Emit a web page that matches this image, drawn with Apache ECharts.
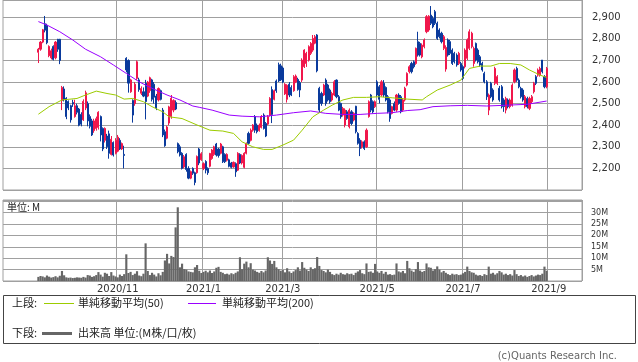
<!DOCTYPE html>
<html><head><meta charset="utf-8">
<script src="https://cdn.jsdelivr.net/npm/echarts@6/dist/echarts.min.js"></script>
<style>html,body{margin:0;padding:0;background:#fff;}#c{width:638px;height:362px;}</style>
</head><body><div id="c"></div>
<script>
// [open, close, low, high]
const candles = [
[2738,2752,2688,2758],[2752,2785,2745,2790],[2785,2842,2780,2846],[2870,2840,2830,2906],[2862,2782,2775,2870],
[2722,2765,2715,2770],[2712,2745,2705,2755],[2765,2705,2700,2770],[2712,2785,2705,2790],[2798,2752,2740,2800],
[2798,2700,2683,2800],
[2515,2575,2470,2582],[2568,2520,2510,2580],[2525,2440,2428,2530],[2510,2480,2470,2515],[2490,2425,2412,2495],
[2505,2498,2485,2518],[2440,2490,2435,2518],[2490,2460,2450,2500],[2475,2400,2395,2480],[2450,2405,2395,2460],
[2425,2510,2420,2520],[2480,2550,2470,2560],[2500,2420,2395,2510],[2440,2395,2385,2450],[2420,2355,2350,2430],
[2375,2420,2365,2430],[2385,2430,2375,2440],[2390,2460,2380,2465],[2440,2355,2325,2445],[2385,2290,2280,2390],
[2330,2385,2320,2390],[2350,2300,2290,2360],[2360,2270,2245,2375],[2265,2335,2260,2350],[2320,2262,2255,2325],
[2270,2330,2265,2340],[2280,2345,2275,2355],[2330,2290,2285,2340],[2290,2315,2285,2320],[2265,2260,2200,2305],
[2710,2656,2645,2715],[2700,2595,2551,2705],[2555,2610,2550,2615],[2515,2447,2412,2520],[2500,2590,2490,2600],
[2617,2694,2610,2700],[2610,2565,2555,2620],[2548,2570,2540,2580],[2555,2535,2530,2575],[2595,2510,2427,2610],
[2535,2600,2530,2605],[2560,2620,2550,2625],[2610,2520,2510,2615],[2590,2530,2500,2600],[2535,2480,2470,2545],
[2517,2570,2510,2575],[2560,2520,2515,2565],[2470,2355,2345,2480],[2370,2305,2300,2380],[2340,2392,2335,2398],
[2410,2485,2400,2490],[2440,2525,2430,2540],[2470,2515,2460,2520],[2505,2475,2470,2515],[2315,2277,2270,2320],
[2300,2262,2255,2310],[2270,2200,2195,2275],[2207,2254,2200,2262],[2265,2195,2185,2270],[2200,2155,2150,2210],
[2155,2185,2150,2190],[2200,2178,2170,2205],[2180,2135,2122,2185],[2180,2255,2175,2260],[2290,2225,2215,2295],
[2240,2268,2235,2275],
[2200,2222,2192,2228],[2232,2192,2177,2238],[2200,2180,2170,2205],[2210,2269,2205,2272],[2246,2285,2240,2290],
[2265,2300,2258,2305],[2313,2262,2255,2318],[2290,2260,2250,2295],[2270,2313,2265,2318],[2300,2231,2225,2305],
[2265,2231,2225,2270],[2238,2265,2232,2270],[2240,2210,2205,2245],[2225,2205,2200,2230],[2207,2228,2203,2232],
[2222,2184,2161,2228],[2192,2270,2188,2275],[2265,2225,2220,2270],[2225,2260,2218,2265],[2205,2270,2200,2275],
[2270,2316,2265,2320],[2362,2316,2310,2370],[2330,2377,2325,2385],[2377,2401,2370,2405],[2440,2377,2365,2447],
[2400,2370,2362,2408],[2375,2400,2370,2408],[2390,2440,2385,2447],[2447,2385,2380,2455],[2408,2350,2345,2415],
[2405,2440,2400,2447],[2445,2524,2440,2530],[2565,2450,2410,2580],[2520,2560,2515,2565],[2605,2560,2550,2612],
[2680,2605,2600,2690],[2675,2610,2605,2685],[2665,2600,2595,2672],[2545,2590,2540,2595],[2520,2585,2505,2590],
[2590,2540,2530,2600],
[2575,2540,2535,2585],[2560,2625,2555,2632],[2600,2628,2595,2635],[2612,2565,2560,2620],[2597,2563,2530,2605],
[2609,2702,2600,2710],[2671,2748,2665,2752],[2686,2733,2670,2740],[2702,2764,2695,2770],[2733,2779,2725,2785],
[2748,2802,2740,2818],[2780,2810,2775,2818],[2818,2652,2645,2822],[2571,2470,2460,2578],[2547,2501,2490,2555],
[2540,2586,2535,2592],[2609,2501,2490,2617],[2586,2517,2510,2592],[2563,2509,2500,2570],[2517,2547,2510,2555],
[2540,2601,2535,2609],[2609,2532,2525,2612],[2532,2470,2465,2540],[2501,2439,2430,2505],[2447,2478,2440,2485],
[2401,2470,2390,2478],[2462,2431,2425,2470],[2393,2470,2385,2478],[2462,2408,2400,2470],[2424,2455,2418,2460],
[2488,2370,2362,2490],[2362,2316,2310,2368],[2331,2292,2257,2340],[2300,2323,2292,2330],[2323,2292,2285,2330],
[2300,2377,2295,2385],[2440,2509,2435,2515],[2540,2470,2460,2545],[2509,2462,2455,2515],[2486,2509,2480,2515],
[2601,2540,2532,2609],[2578,2520,2501,2586],[2540,2601,2532,2609],[2594,2540,2530,2609],[2575,2517,2510,2580],
[2532,2462,2455,2540],[2517,2431,2416,2525],[2455,2486,2450,2490],[2500,2470,2465,2510],[2470,2540,2462,2545],
[2540,2501,2495,2548],[2532,2462,2455,2540],[2470,2517,2462,2525],[2517,2571,2510,2578],[2586,2640,2580,2645],
[2648,2671,2640,2678],[2686,2648,2640,2694],[2694,2671,2663,2700],[2686,2756,2680,2760],[2787,2725,2718,2833],
[2779,2725,2718,2786],[2717,2771,2710,2779],[2764,2795,2756,2802],[2833,2903,2826,2910],[2841,2905,2833,2910],
[2910,2872,2864,2952],[2895,2856,2849,2905],[2926,2872,2864,2934],[2872,2802,2795,2880],[2841,2810,2802,2849],
[2826,2787,2779,2833],[2756,2810,2748,2818],[2660,2760,2648,2770],[2795,2725,2718,2802],[2787,2733,2725,2795],
[2748,2686,2679,2756],[2733,2694,2686,2740],[2725,2679,2671,2733],[2686,2733,2679,2740],[2686,2656,2648,2694],
[2671,2617,2609,2678],
[2671,2748,2663,2756],[2710,2795,2702,2802],[2756,2833,2748,2844],[2764,2826,2756,2833],[2686,2756,2671,2764],
[2779,2702,2695,2783],[2748,2694,2686,2756],[2717,2679,2671,2725],[2686,2656,2648,2694],[2640,2601,2594,2648],
[2601,2532,2517,2609],[2470,2540,2447,2547],[2594,2532,2525,2601],[2563,2517,2509,2571],[2594,2663,2586,2671],
[2594,2625,2586,2632],[2571,2517,2509,2582],[2578,2486,2478,2586],[2517,2486,2462,2525],[2470,2524,2455,2532],
[2517,2486,2478,2524],[2486,2517,2478,2524],[2493,2586,2486,2594],[2601,2656,2594,2663],[2663,2609,2601,2671],
[2609,2578,2571,2617],[2571,2532,2524,2578],[2563,2517,2509,2571],[2486,2532,2478,2540],[2524,2486,2478,2532],
[2478,2524,2470,2532],[2509,2532,2501,2540],[2555,2594,2547,2601],[2625,2594,2586,2632],[2632,2656,2625,2663],
[2632,2663,2625,2671],[2702,2648,2640,2702],[2625,2578,2571,2632],[2578,2663,2571,2670]
];
// volume in millions
const volumes = [
1.8,2.2,2.0,1.6,2.4,1.9,1.5,1.7,2.1,1.6,2.3,
4.4,
2.5,1.6,1.4,1.5,1.3,1.4,1.6,1.5,1.4,1.8,1.5,
2.6,2.4,1.8,2.1,2.6,
3.9,2.8,1.9,3.6,3.2,2.2,3.9,2.4,
2.0,1.6,2.8,2.2,3.0,
11.7,
3.5,4.0,2.6,3.2,4.3,2.4,2.1,3.2,
16.5,
4.4,2.6,3.6,2.8,2.0,3.4,2.5,4.0,
9.0,11.9,7.7,11.0,10.5,23.5,32.3,6.0,7.6,5.2,
5.0,4.2,4.0,3.8,6.0,7.0,4.5,3.5,
4.0,4.5,3.8,4.6,3.5,4.2,5.8,6.2,4.0,3.6,
3.0,3.2,2.8,3.4,3.0,3.6,4.2,
10.4,5.2,7.6,8.5,6.0,7.8,5.0,4.6,4.0,3.6,4.4,3.8,4.6,
10.4,9.0,7.5,8.8,6.0,5.2,4.5,4.8,3.8,5.6,4.2,
3.5,4.2,4.8,6.0,4.6,8.3,5.8,5.0,4.4,6.0,5.2,5.6,10.5,6.6,4.8,4.4,3.8,5.0,4.0,3.0,2.6,3.2,2.8,3.6,3.0,2.8,3.4,3.0,3.2,2.6,3.6,4.2,4.8,3.4,3.0,7.7,4.0,4.2,3.6,
7.5,4.2,3.6,4.4,3.2,4.0,2.8,3.0,2.6,2.8,7.7,4.2,3.8,4.4,3.4,8.8,5.6,4.6,4.0,5.2,8.3,4.6,4.0,4.4,7.7,6.0,5.8,4.6,5.2,6.4,5.0,3.8,4.4,3.6,3.0,2.6,3.2,2.8,3.0,2.6,
2.8,3.4,4.0,6.3,4.4,3.8,3.6,2.8,2.4,2.6,2.2,3.0,2.6,6.3,3.2,3.6,2.8,3.4,4.4,3.8,2.8,3.2,2.6,3.0,2.4,4.8,3.0,2.2,2.6,2.0,2.4,1.8,2.2,2.6,2.0,2.4,2.8,2.6,3.2,6.3,4.5
];
// [candle index, value]
const ma50Points = [[0,2451],[5,2486],[11,2517],[18,2524],[22,2540],[27,2558],[32,2547],[36,2540],[40,2521],[44,2524],
[49,2509],[53,2486],[58,2462],[61,2439],[67,2431],[74,2401],[80,2377],[86,2373],[91,2362],[95,2323],[100,2300],
[105,2288],[109,2288],[114,2308],[119,2331],[123,2377],[128,2439],[133,2470],[137,2493],[142,2517],[147,2529],
[153,2529],[159,2532],[165,2527],[172,2521],[179,2517],[181,2532],[186,2563],[192,2586],[197,2609],[201,2663],
[206,2674],[211,2674],[215,2686],[220,2686],[225,2679],[229,2656],[234,2632],[237,2621]];
const ma200Points = [[0,2880],[4,2864],[10,2833],[16,2795],[22,2752],[29,2717],[35,2679],[41,2640],[47,2601],[53,2571],
[60,2540],[66,2517],[72,2489],[75,2483],[81,2470],[89,2447],[95,2442],[103,2439],[111,2447],[119,2458],[127,2466],
[134,2455],[142,2450],[150,2450],[158,2455],[165,2458],[172,2468],[178,2472],[184,2486],[192,2490],[200,2492],
[209,2489],[219,2493],[228,2497],[237,2512]];
const monthLabels = ['2020/11','2021/1','2021/3','2021/5','2021/7','2021/9'];
const monthIdx = [37, 77, 114, 158, 198, 238];

const PAD_L = 16, PAD_R = 16;
const N = PAD_L + candles.length + PAD_R;
const cats = [];
for (let k = 0; k < N; k++) cats.push('d' + k);
const labelAt = {};
monthIdx.forEach((i, j) => { labelAt[i + PAD_L] = monthLabels[j]; });
const candleData = candles.map((c, i) => [i + PAD_L, c[0], c[1], c[2], c[3]]);
const volData = volumes.map((v, i) => [i + PAD_L, v]);
const ma50Data = ma50Points.map(p => [p[0] + PAD_L, p[1]]);
const ma200Data = ma200Points.map(p => [p[0] + PAD_L, p[1]]);

const GRID = '#a0a0a0';
const RED = '#f0174b', BLUE = '#0a3a9c';
const isMonth = (idx) => labelAt[idx] !== undefined;
const comma = v => String(v).replace(/\B(?=(\d{3})+(?!\d))/g, ',');
const cjk = '"Noto Sans CJK JP", sans-serif';

const chart = echarts.init(document.getElementById('c'), null, {renderer: 'canvas'});
chart.setOption({
  animation: false,
  backgroundColor: '#fff',
  grid: [
    {left: 3, top: 0, width: 579, height: 190, show: true, borderColor: GRID, borderWidth: 1, containLabel: false, outerBoundsMode: 'none'},
    {left: 3, top: 200, width: 579, height: 81, show: true, borderColor: GRID, borderWidth: 1, containLabel: false, outerBoundsMode: 'none'}
  ],
  xAxis: [
    {type: 'category', gridIndex: 0, data: cats, boundaryGap: true,
     axisLine: {show: false}, axisTick: {show: false}, axisLabel: {show: false},
     splitLine: {show: true, interval: (i) => isMonth(i), lineStyle: {color: GRID, width: 1}}},
    {type: 'category', gridIndex: 1, data: cats, boundaryGap: true,
     axisLine: {show: false}, axisTick: {show: false},
     axisLabel: {show: true, interval: (i) => isMonth(i), formatter: (v, i) => labelAt[i] || '',
       fontSize: 10, fontFamily: 'DejaVu Sans', color: '#333', margin: 3},
     splitLine: {show: true, interval: (i) => isMonth(i), lineStyle: {color: GRID, width: 1}}}
  ],
  yAxis: [
    {type: 'value', gridIndex: 0, position: 'right', min: 2100, max: 2980, interval: 100,
     axisLine: {show: false}, axisTick: {show: false},
     axisLabel: {margin: 10, fontSize: 10, fontFamily: 'DejaVu Sans', color: '#333',
       formatter: v => (v >= 2200 && v <= 2900) ? comma(v) : ''},
     splitLine: {show: true, lineStyle: {color: GRID, width: 1}}},
    {type: 'value', gridIndex: 1, position: 'right', min: 0, max: 35.5, interval: 5,
     axisLine: {show: false}, axisTick: {show: false},
     axisLabel: {margin: 9, fontSize: 8, fontFamily: 'DejaVu Sans', color: '#333',
       formatter: v => (v >= 5 && v <= 30) ? v + 'M' : ''},
     splitLine: {show: true, lineStyle: {color: GRID, width: 1}}}
  ],
  series: [
    {type: 'line', xAxisIndex: 0, yAxisIndex: 0, data: ma200Data, symbol: 'none', silent: true,
     lineStyle: {color: '#9a00ff', width: 1}, z: 3},
    {type: 'line', xAxisIndex: 0, yAxisIndex: 0, data: ma50Data, symbol: 'none', silent: true,
     lineStyle: {color: '#9ccc00', width: 1}, z: 3},
    {type: 'candlestick', xAxisIndex: 0, yAxisIndex: 0, data: candleData,
     encode: {x: 0, y: [1, 2, 3, 4]}, barWidth: 1.6,
     itemStyle: {color: RED, color0: BLUE, borderColor: RED, borderColor0: BLUE, borderWidth: 1}, z: 2},
    {type: 'bar', xAxisIndex: 1, yAxisIndex: 1, data: volData, barCategoryGap: '0%',
     itemStyle: {color: '#666666'}}
  ],
  graphic: [
    {type: 'text', left: 7, top: 202, style: {text: '単位: M', fontSize: 10, fontFamily: cjk, fill: '#222'}},
    {type: 'rect', shape: {x: 3.5, y: 295.5, width: 632, height: 48}, style: {fill: 'none', stroke: '#444', lineWidth: 1}},
    {type: 'text', x: 12, y: 303, style: {text: '上段:', fontSize: 11, fontFamily: cjk, fill: '#222', textVerticalAlign: 'middle', verticalAlign: 'middle'}},
    {type: 'line', shape: {x1: 44, y1: 303.5, x2: 74, y2: 303.5}, style: {stroke: '#9ccc00', lineWidth: 1}},
    {type: 'text', x: 78, y: 303, style: {text: '単純移動平均(50)', fontSize: 11, fontFamily: cjk, fill: '#222', textVerticalAlign: 'middle', verticalAlign: 'middle'}},
    {type: 'line', shape: {x1: 188, y1: 303.5, x2: 216, y2: 303.5}, style: {stroke: '#9a00ff', lineWidth: 1}},
    {type: 'text', x: 222, y: 303, style: {text: '単純移動平均(200)', fontSize: 11, fontFamily: cjk, fill: '#222', textVerticalAlign: 'middle', verticalAlign: 'middle'}},
    {type: 'text', x: 12, y: 333, style: {text: '下段:', fontSize: 11, fontFamily: cjk, fill: '#222', textVerticalAlign: 'middle', verticalAlign: 'middle'}},
    {type: 'line', shape: {x1: 42, y1: 333.5, x2: 72, y2: 333.5}, style: {stroke: '#666', lineWidth: 3}},
    {type: 'text', x: 78, y: 333, style: {text: '出来高 単位:(M株/口/枚)', fontSize: 11, fontFamily: cjk, fill: '#222', textVerticalAlign: 'middle', verticalAlign: 'middle'}},
    {type: 'text', x: 617, y: 356, style: {text: '(c)Quants Research Inc.', fontSize: 10, fontFamily: 'DejaVu Sans', fill: '#666', textAlign: 'right', align: 'right', textVerticalAlign: 'middle', verticalAlign: 'middle'}}
  ]
});
</script></body></html>
